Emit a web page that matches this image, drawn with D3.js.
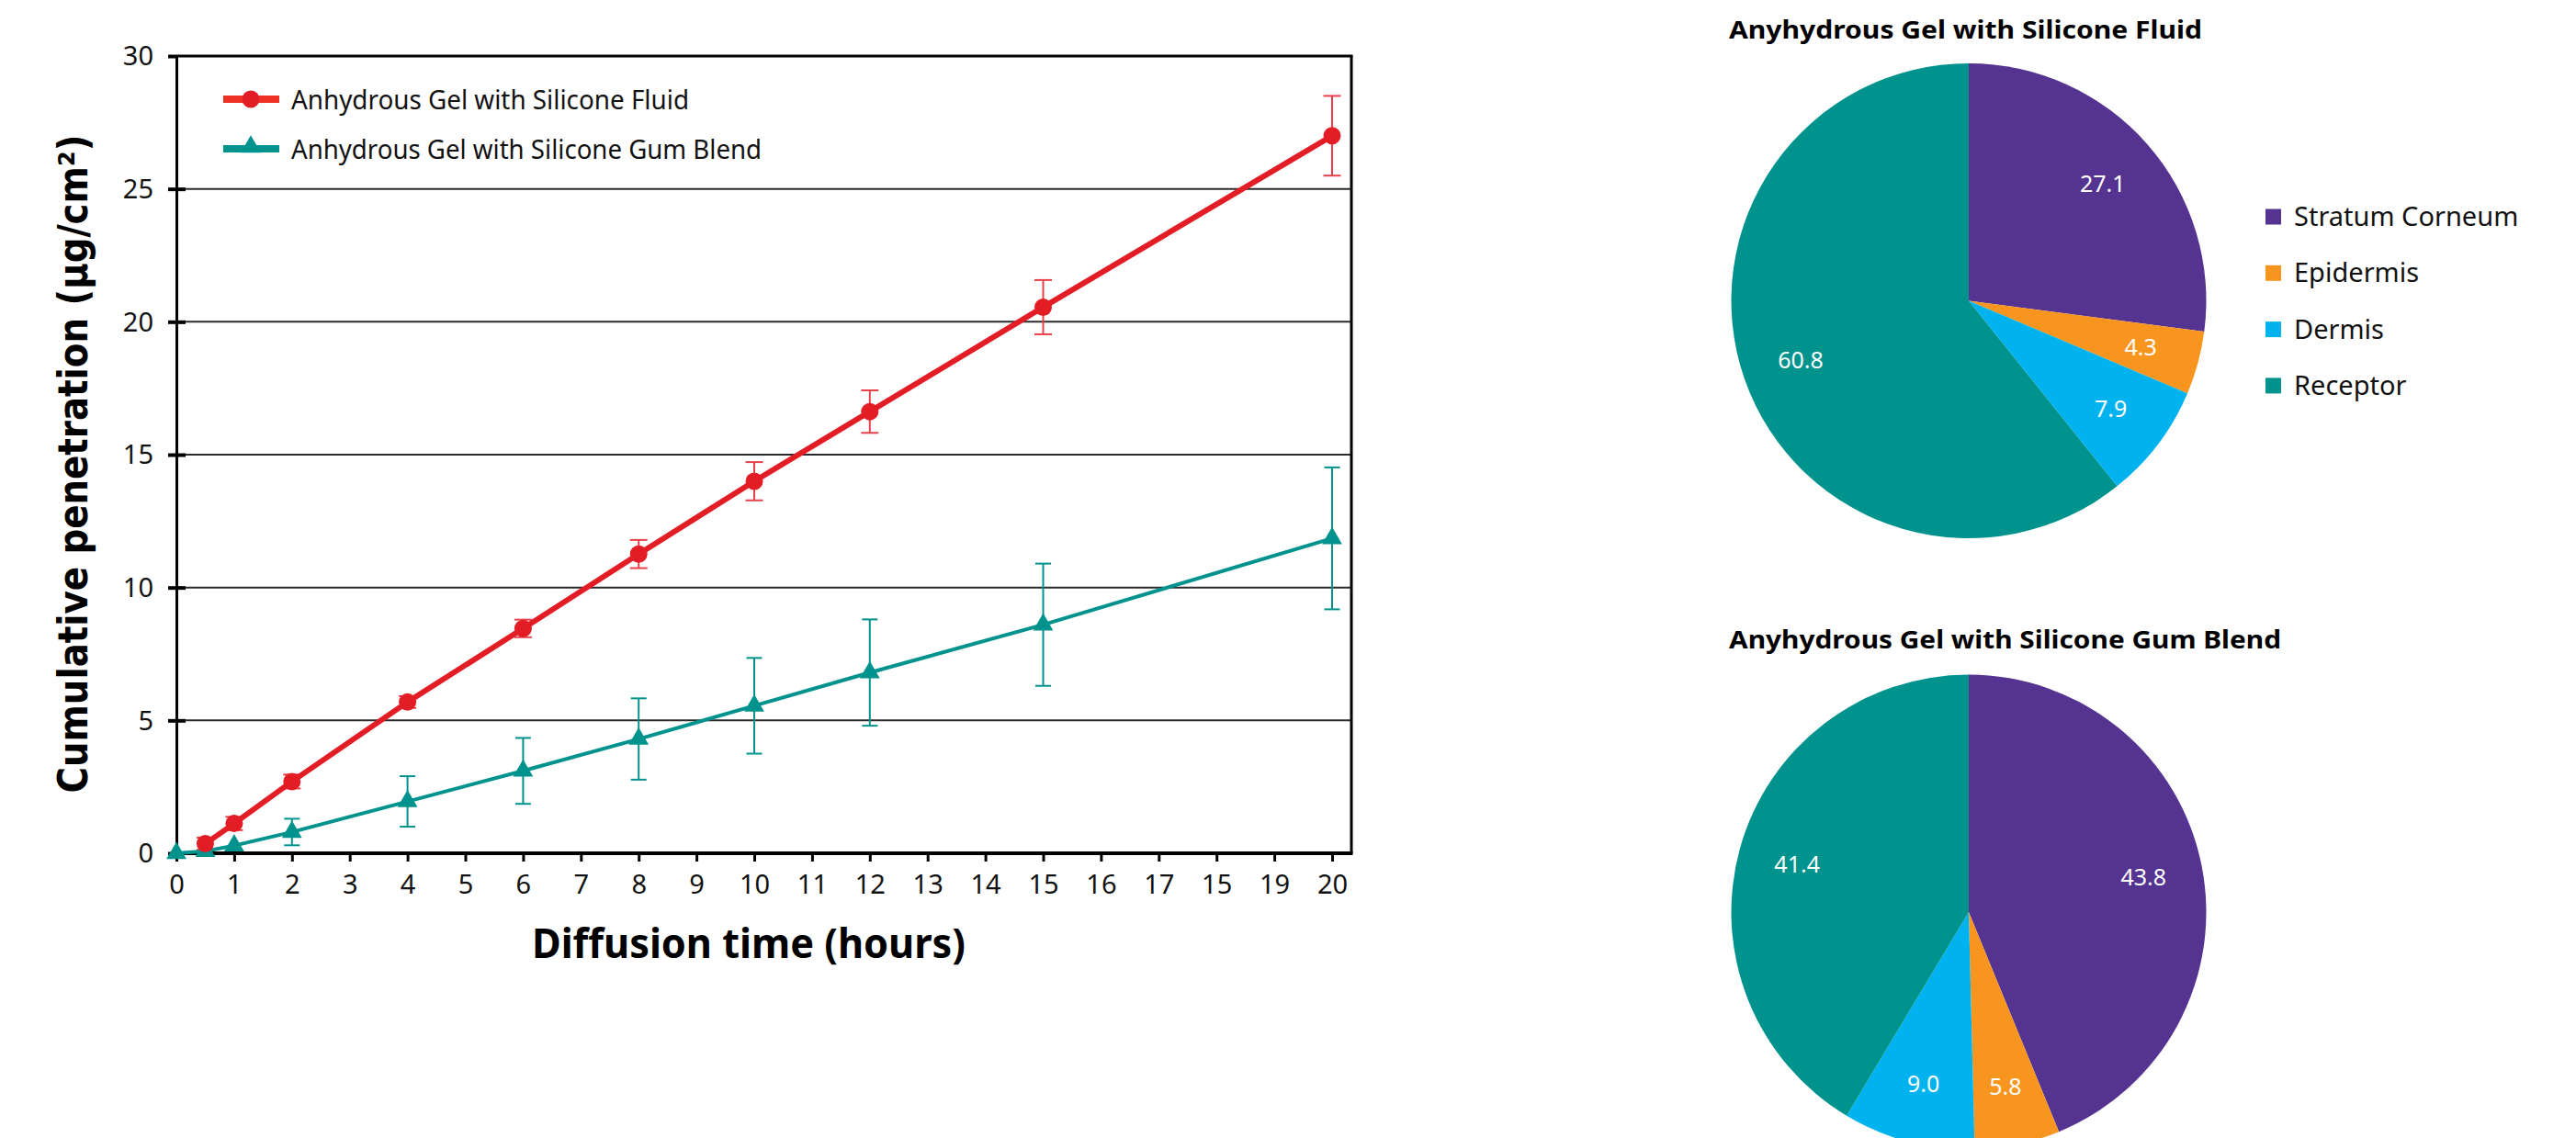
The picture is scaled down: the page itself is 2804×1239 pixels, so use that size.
<!DOCTYPE html>
<html>
<head>
<meta charset="utf-8">
<script src="https://cdn.jsdelivr.net/npm/d3@7"></script>
<style>
  html, body { margin: 0; padding: 0; background: #ffffff; }
  svg { display: block; }
</style>
</head>
<body>
<svg id="chart" width="2804" height="1239"></svg>
<script>
// ---- Cumulative penetration over time (mean ± SD) ----
const fluidHours = [0.5, 1, 2, 4, 6, 8, 10, 12, 15, 20];
const fluidMean  = [0.36, 1.12, 2.70, 5.69, 8.46, 11.26, 14.0, 16.62, 20.55, 27.0];
const fluidErr   = [0.23, 0.25, 0.26, 0.22, 0.33, 0.53, 0.72, 0.80, 1.02, 1.50];

const gumHours = [0, 0.5, 1, 2, 4, 6, 8, 10, 12, 15, 20];
const gumMean  = [0, 0.08, 0.29, 0.80, 1.95, 3.10, 4.30, 5.55, 6.80, 8.60, 11.85];
const gumErr   = [0, 0, 0, 0.50, 0.95, 1.24, 1.53, 1.80, 2.00, 2.30, 2.67];

const seriesNames = ["Anhydrous Gel with Silicone Fluid", "Anhydrous Gel with Silicone Gum Blend"];

const xTickValues = [0,1,2,3,4,5,6,7,8,9,10,11,12,13,14,15,16,17,18,19,20];
const xTickLabels = ["0","1","2","3","4","5","6","7","8","9","10","11","12","13","14","15","16","17","15","19","20"];
const yTickValues = [0, 5, 10, 15, 20, 25, 30];

// ---- Skin layer distribution (%) ----
const layers     = ["Stratum Corneum", "Epidermis", "Dermis", "Receptor"];
const fluidShare = [27.1, 4.3, 7.9, 60.8];
const gumShare   = [43.8, 5.8, 9.0, 41.4];
const pieTitles  = ["Anyhydrous Gel with Silicone Fluid", "Anyhydrous Gel with Silicone Gum Blend"];

const layerColors = ["#553391", "#f7951f", "#00b3ef", "#00938d"];
const RED = "#e31d25", RED_ERR = "#e8404a", TEAL = "#00938d";
const FONT = "'Noto Sans', 'Open Sans', sans-serif";

const svg = d3.select("#chart");

// ===== line chart =====
const x = d3.scaleLinear().domain([0, 20]).range([192, 1450]);
const y = d3.scaleLinear().domain([0, 30]).range([929, 61]);
const plotRight = 1471;

const g = svg.append("g");

// horizontal gridlines
g.append("g").selectAll("line")
  .data(yTickValues.filter(v => v > 0 && v < 30))
  .join("line")
  .attr("x1", x(0)).attr("x2", plotRight)
  .attr("y1", d => y(d)).attr("y2", d => y(d))
  .attr("stroke", "#2b2b2b").attr("stroke-width", 2);

// frame: top and right borders
g.append("line").attr("x1", x(0)).attr("x2", plotRight + 1.5).attr("y1", y(30)).attr("y2", y(30))
  .attr("stroke", "#000").attr("stroke-width", 3);
g.append("line").attr("x1", plotRight).attr("x2", plotRight).attr("y1", y(30)).attr("y2", y(0))
  .attr("stroke", "#000").attr("stroke-width", 3);

// y axis
const yAxis = d3.axisLeft(y).tickValues(yTickValues).tickSizeInner(9).tickSizeOuter(0).tickPadding(16);
const yAxisG = g.append("g").attr("transform", `translate(${x(0)},0)`).call(yAxis);
yAxisG.select(".domain").attr("stroke", "#000").attr("stroke-width", 3);
yAxisG.selectAll(".tick line").attr("stroke", "#000").attr("stroke-width", 4)
  .attr("x2", -9).attr("x1", d => (d > 0 && d < 30) ? 10 : 0);
yAxisG.selectAll(".tick text").attr("font-family", FONT).attr("font-size", 29)
  .attr("fill", "#111").attr("dy", "0.34em");

// x axis
const xAxis = d3.axisBottom(x).tickValues(xTickValues)
  .tickFormat((d, i) => xTickLabels[i]).tickSizeInner(9).tickSizeOuter(0).tickPadding(14);
const xAxisG = g.append("g").attr("transform", `translate(0,${y(0)})`).call(xAxis);
xAxisG.select(".domain").attr("stroke", "#000").attr("stroke-width", 4)
  .attr("d", `M${x(0)},0H${plotRight + 1.5}`);
xAxisG.selectAll(".tick line").attr("stroke", "#000").attr("stroke-width", 3);
xAxisG.selectAll(".tick text").attr("font-family", FONT).attr("font-size", 29)
  .attr("fill", "#111").attr("dy", "0.72em");

// axis titles
g.append("text")
  .attr("transform", `translate(95,505) rotate(-90)`)
  .attr("text-anchor", "middle")
  .attr("font-family", "'DejaVu Sans', sans-serif").attr("font-weight", "bold")
  .attr("font-size", 44).attr("fill", "#000")
  .attr("textLength", 717).attr("lengthAdjust", "spacingAndGlyphs")
  .text("Cumulative penetration (µg/cm²)");

g.append("text")
  .attr("x", 815).attr("y", 1043)
  .attr("text-anchor", "middle")
  .attr("font-family", FONT).attr("font-weight", "bold")
  .attr("font-size", 44).attr("fill", "#000")
  .attr("textLength", 472).attr("lengthAdjust", "spacingAndGlyphs")
  .text("Diffusion time (hours)");

const fluid = fluidHours.map((h, i) => ({ h, v: fluidMean[i], e: fluidErr[i] }));
const gum = gumHours.map((h, i) => ({ h, v: gumMean[i], e: gumErr[i] }));

function errorBars(data, color, half, width) {
  const eg = g.append("g").attr("stroke", color).attr("stroke-width", width).attr("fill", "none");
  const d0 = data.filter(d => d.e > 0);
  eg.selectAll("line.v").data(d0).join("line").attr("class", "v")
    .attr("x1", d => x(d.h)).attr("x2", d => x(d.h))
    .attr("y1", d => y(d.v + d.e)).attr("y2", d => y(d.v - d.e));
  eg.selectAll("line.t").data(d0).join("line").attr("class", "t")
    .attr("x1", d => x(d.h) - half).attr("x2", d => x(d.h) + half)
    .attr("y1", d => y(d.v + d.e)).attr("y2", d => y(d.v + d.e));
  eg.selectAll("line.b").data(d0).join("line").attr("class", "b")
    .attr("x1", d => x(d.h) - half).attr("x2", d => x(d.h) + half)
    .attr("y1", d => y(d.v - d.e)).attr("y2", d => y(d.v - d.e));
}

const line = d3.line().x(d => x(d.h)).y(d => y(d.v));

errorBars(gum, TEAL, 8.5, 2);
errorBars(fluid, RED_ERR, 9.5, 2);

g.append("path").datum(gum).attr("d", line).attr("fill", "none")
  .attr("stroke", TEAL).attr("stroke-width", 4);
g.append("path").datum(fluid).attr("d", line).attr("fill", "none")
  .attr("stroke", RED).attr("stroke-width", 6);

const tri = d3.symbol().type(d3.symbolTriangle).size(205);
g.append("g").selectAll("path").data(gum).join("path")
  .attr("transform", d => `translate(${x(d.h)},${y(d.v)})`)
  .attr("d", tri).attr("fill", TEAL);

g.append("g").selectAll("circle").data(fluid).join("circle")
  .attr("cx", d => x(d.h)).attr("cy", d => y(d.v)).attr("r", 9.5)
  .attr("fill", RED);

// legend
const legend = g.append("g");
const legendRows = [
  { name: seriesNames[0], color: RED, marker: "circle", ly: 108, ty: 119, tl: 433 },
  { name: seriesNames[1], color: TEAL, marker: "tri", ly: 162, ty: 173, tl: 512 }
];
legendRows.forEach(r => {
  legend.append("line").attr("x1", 243).attr("x2", 304).attr("y1", r.ly).attr("y2", r.ly)
    .attr("stroke", r.color === RED ? "#ee3124" : r.color).attr("stroke-width", 8);
  if (r.marker === "circle") {
    legend.append("circle").attr("cx", 273).attr("cy", r.ly).attr("r", 9.5).attr("fill", r.color);
  } else {
    legend.append("path").attr("transform", `translate(273,${r.ly - 2})`)
      .attr("d", d3.symbol().type(d3.symbolTriangle).size(210)).attr("fill", r.color);
  }
  legend.append("text").attr("x", 317).attr("y", r.ty)
    .attr("font-family", FONT).attr("font-size", 29).attr("fill", "#111")
    .attr("textLength", r.tl).attr("lengthAdjust", "spacingAndGlyphs")
    .text(r.name);
});

// ===== pie charts =====
const pie = d3.pie().sort(null).value(d => d);
const R = 258.5;
const arc = d3.arc().innerRadius(0).outerRadius(R);
const labelArc = d3.arc().innerRadius(R * 0.75).outerRadius(R * 0.75);

const pies = [
  { values: fluidShare, cx: 2143, cy: 327.5, title: pieTitles[0], ty: 42, tl: 515 },
  { values: gumShare, cx: 2143, cy: 993, title: pieTitles[1], ty: 706, tl: 601 }
];

pies.forEach(p => {
  svg.append("text").attr("x", 1882).attr("y", p.ty)
    .attr("font-family", FONT).attr("font-weight", "bold").attr("font-size", 26)
    .attr("fill", "#000")
    .attr("textLength", p.tl).attr("lengthAdjust", "spacingAndGlyphs")
    .text(p.title);
  const pg = svg.append("g").attr("transform", `translate(${p.cx},${p.cy})`);
  const arcs = pie(p.values);
  pg.selectAll("path").data(arcs).join("path")
    .attr("d", arc).attr("fill", (d, i) => layerColors[i]);
  pg.selectAll("text").data(arcs).join("text")
    .attr("transform", d => `translate(${labelArc.centroid(d)})`)
    .attr("text-anchor", "middle").attr("dy", "0.36em")
    .attr("font-family", FONT).attr("font-size", 25).attr("fill", "#fff")
    .text(d => d3.format(".1f")(d.data));
});

// pie legend
const pl = svg.append("g");
layers.forEach((name, i) => {
  const cy = 236 + i * 61.3;
  pl.append("rect").attr("x", 2466).attr("y", cy - 8.5).attr("width", 17).attr("height", 17)
    .attr("fill", layerColors[i]);
  pl.append("text").attr("x", 2497).attr("y", cy + 10)
    .attr("font-family", FONT).attr("font-size", 29).attr("fill", "#111")
    .text(name);
});
</script>
</body>
</html>
